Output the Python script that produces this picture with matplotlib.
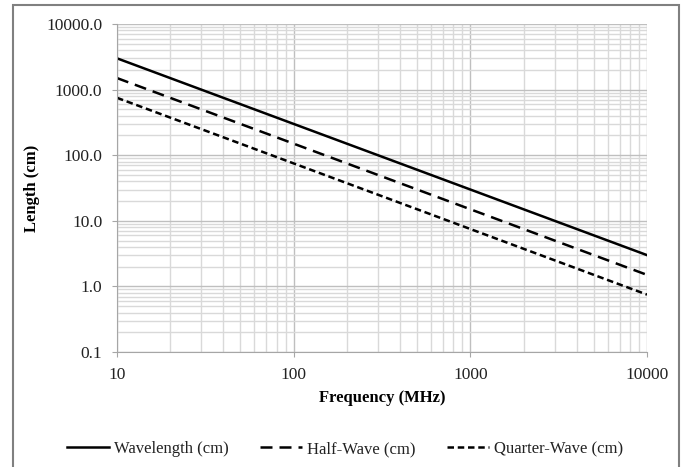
import matplotlib
matplotlib.use("Agg")
import matplotlib.pyplot as plt
from matplotlib.patches import Rectangle
from matplotlib.ticker import FixedLocator, LogLocator, NullFormatter

# frequency (MHz) and lengths (cm)
freq = [10, 100, 1000, 10000]
wavelength = [2998.0, 299.8, 29.98, 2.998]
half_wave = [1499.0, 149.9, 14.99, 1.499]
quarter_wave = [749.5, 74.95, 7.495, 0.7495]

x_ticks = [10, 100, 1000, 10000]
x_labels = ["10", "100", "1000", "10000"]
y_ticks = [0.1, 1, 10, 100, 1000, 10000]
y_labels = ["0.1", "1.0", "10.0", "100.0", "1000.0", "10000.0"]

plt.rcParams['font.family'] = ['Liberation Serif', 'DejaVu Serif']

W, H = 686, 467
fig = plt.figure(figsize=(W/100, H/100), dpi=100)
# plot area in pixels: x 117..647, y 24..352
ax = fig.add_axes([117/W, 1-352/H, 530/W, 328/H])

ax.plot(freq, wavelength, color="black", lw=1.8, label="Wavelength (cm)")
ax.plot(freq, half_wave, color="black", lw=1.8, dashes=(4.8, 2.8), label="Half-Wave (cm)")
ax.plot(freq, quarter_wave, color="black", lw=1.8, dashes=(2.6, 1.5), label="Quarter-Wave (cm)")

ax.set_xscale("log")
ax.set_yscale("log")
ax.set_xlim(10, 10000)
ax.set_ylim(0.1, 10000)

ax.xaxis.set_major_locator(FixedLocator(x_ticks))
ax.set_xticklabels(x_labels)
ax.yaxis.set_major_locator(FixedLocator(y_ticks))
ax.set_yticklabels(y_labels)
ax.xaxis.set_minor_locator(LogLocator(base=10, subs=range(2, 10)))
ax.yaxis.set_minor_locator(LogLocator(base=10, subs=range(2, 10)))
ax.xaxis.set_minor_formatter(NullFormatter())
ax.yaxis.set_minor_formatter(NullFormatter())

ax.grid(which="major", color="#bfbfbf", lw=1.0)
ax.grid(which="minor", color="#d9d9d9", lw=1.0)
ax.set_axisbelow(True)

for s in ["top", "right"]:
    ax.spines[s].set_visible(False)
for s in ["left", "bottom"]:
    ax.spines[s].set_color("#a6a6a6")
ax.tick_params(which="major", length=3.6, color="#a6a6a6", labelsize=12.5, labelcolor="#222222")
ax.tick_params(which="minor", length=0)
ax.tick_params(axis="y", pad=7)
ax.tick_params(axis="x", pad=7)

ax.set_xlabel("Frequency (MHz)", fontsize=12, fontweight="bold", va="center")
ax.xaxis.set_label_coords((382-117)/530, (352-398)/328)
ax.set_ylabel("Length (cm)", fontsize=12, fontweight="bold", va="center")
ax.yaxis.set_label_coords((32-117)/530, 0.5)

fig.legend(loc="center", bbox_to_anchor=(345/W, 1-449/H), ncol=3, frameon=False,
           fontsize=12, handlelength=2.5, handletextpad=0.3, columnspacing=1.9,
           labelcolor="#222222")

fig.patches.append(Rectangle((13/W, -0.02), 666/W, 1.02-5/H,
                             transform=fig.transFigure, fill=False,
                             edgecolor="#808080", lw=1.5))

plt.savefig("out.png")
